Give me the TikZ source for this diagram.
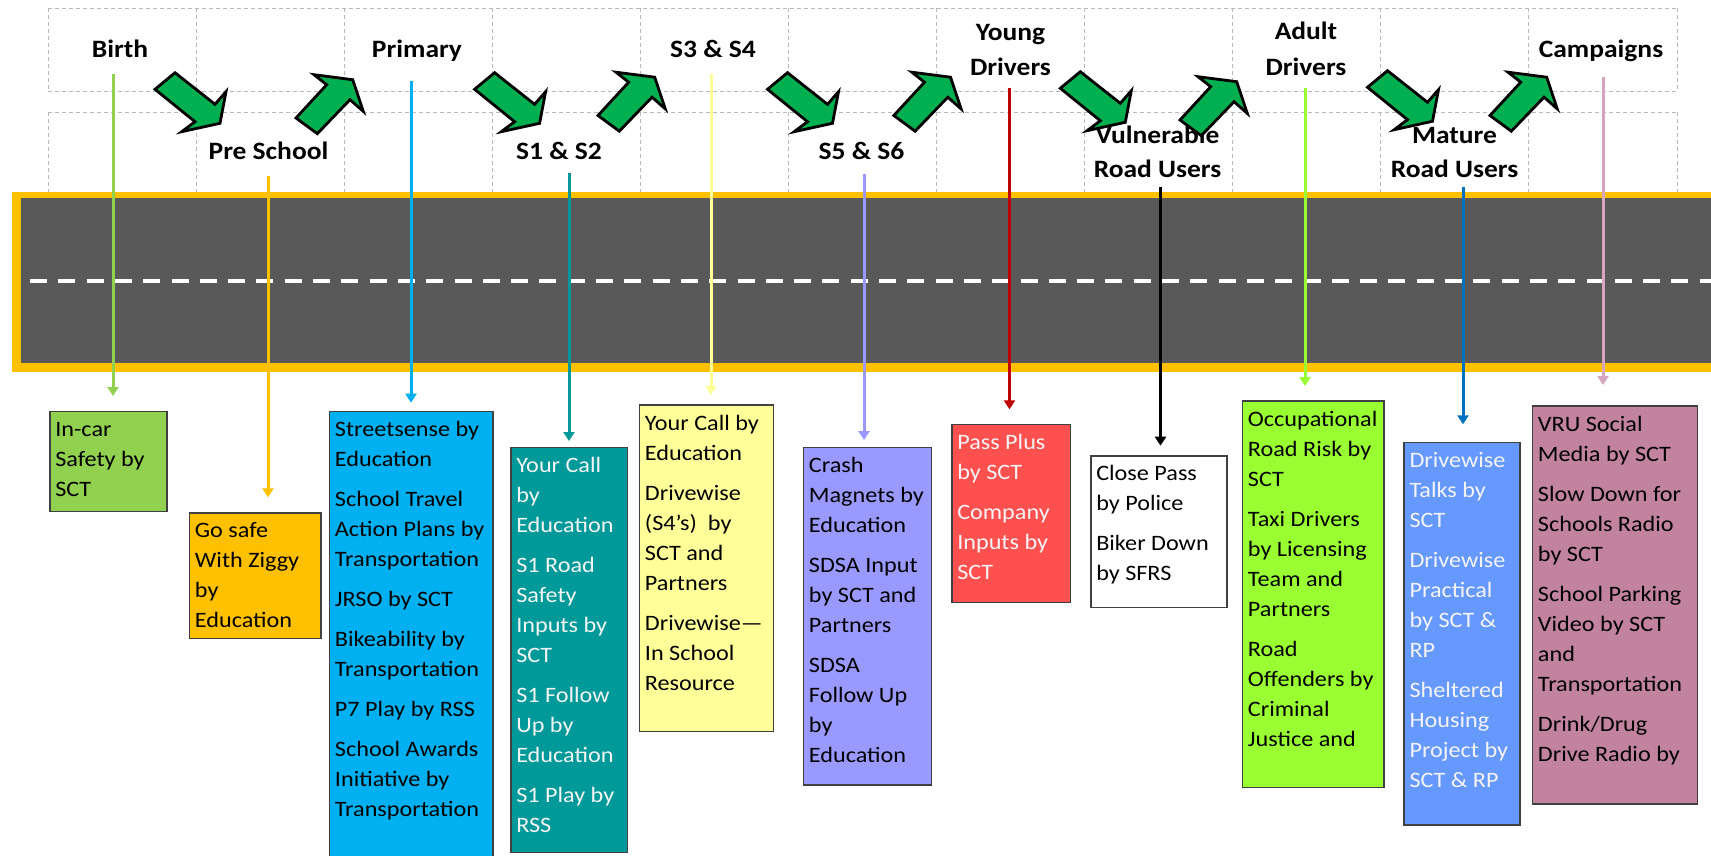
\documentclass[tikz,border=0pt]{standalone}
\usepackage{fontspec}
\setmainfont{Carlito}[FakeStretch=1.1]
\usetikzlibrary{arrows.meta}
\definecolor{roadgray}{HTML}{595959}
\definecolor{roadyellow}{HTML}{FFC000}
\definecolor{arrowgreen}{HTML}{00B050}
\definecolor{cA}{HTML}{92D050}
\definecolor{cB}{HTML}{FFC000}
\definecolor{cC}{HTML}{00B0F0}
\definecolor{cD}{HTML}{009999}
\definecolor{cE}{HTML}{FFFF99}
\definecolor{cF}{HTML}{9999FF}
\definecolor{cG}{HTML}{C00000}
\definecolor{cI}{HTML}{99FF33}
\definecolor{cJ}{HTML}{0070C0}
\definecolor{cK}{HTML}{D5A6BD}
\definecolor{fRed}{HTML}{FF5050}
\definecolor{fBlue}{HTML}{6699FF}
\definecolor{fPink}{HTML}{C2839F}
\definecolor{boxline}{HTML}{404040}
\definecolor{lighttext}{HTML}{F4F4F4}
\newcommand\bxt[3]{\parbox[c][#2pt][t]{#1pt}{\raggedright\leftskip=5.5pt\parindent=0pt\fontsize{22}{30}\selectfont\rule{0pt}{25pt}#3}}
\newcommand\stk[1]{\begin{tabular}[t]{@{}c@{}}#1\end{tabular}}
\newcommand\downarr[1]{\draw[garrow, shift={(#1)}] (0,0) -- (20,-16.6) -- (60,15) -- (71,2.4) -- (65,34) -- (26.7,42.4) -- (40,32.4) -- cycle;}
\newcommand\uparr[1]{\draw[garrow, shift={(#1)}] (0,0) -- (21.3,15.7) -- (54,-18.3) -- (67.3,-6.6) -- (56.7,-38.3) -- (18,-43.3) -- (30.7,-33.3) -- cycle;}
\tikzset{
  griddash/.style={draw=gray!55, line width=1pt, dash pattern=on 4pt off 3pt},
  stage/.style={anchor=base, inner sep=0pt, font=\fontsize{25}{34}\selectfont\bfseries},
  stagehi/.style={anchor=base, inner sep=0pt, font=\fontsize{25}{35.5}\selectfont\bfseries},
  infobox/.style={anchor=north west, inner sep=0pt, draw=boxline, line width=1.5pt},
  vline/.style={line width=3pt, -{Triangle[width=11pt,length=9pt]}},
  garrow/.style={fill=arrowgreen, draw=black, line width=2.8pt, line join=miter}
}
\begin{document}
\begin{tikzpicture}[x=1pt,y=-1pt]
\useasboundingbox (0,0) rectangle (1711,855);
\clip (0,0) rectangle (1711,855);
\fill[white] (0,0) rectangle (1711,855);
% grid
\draw[griddash] (48,8) -- (1677,8);
\draw[griddash] (48,91) -- (1677,91);
\draw[griddash] (48,112) -- (1677,112);
\foreach \i in {0,...,11} {
  \draw[griddash] ({48+148.09*\i},8) -- ({48+148.09*\i},91);
  \draw[griddash] ({48+148.09*\i},112) -- ({48+148.09*\i},194);
}
% road
\fill[roadyellow] (11.5,191.7) rectangle (1725,371.7);
\fill[roadgray] (21,198.3) rectangle (1725,362.7);
\draw[white, line width=3.3pt, dash pattern=on 17pt off 11.3pt] (30,281) -- (1720,281);
% stage labels
\node[stage] (birth) at (120,57.3) {Birth};
\node[stage] (pre) at (268.5,159) {Pre School};
\node[stage] (primary) at (417,57.3) {Primary};
\node[stage] (s12) at (559,159) {S1 \& S2};
\node[stage] (s34) at (713,57.3) {S3 \& S4};
\node[stage] (s56) at (861.5,159) {S5 \& S6};
\node[stagehi] (young) at (1010.5,40) {\stk{Young\\Drivers}};
\node[stage] (vru) at (1157.5,143) {\stk{Vulnerable\\Road Users}};
\node[stagehi] (adult) at (1306,39.5) {\stk{Adult\\Drivers}};
\node[stage] (mature) at (1454.5,143.5) {\stk{Mature\\Road Users}};
\node[stage] (camp) at (1601,57.3) {Campaigns};
% boxes
\node[infobox, fill=cA] (incar) at (49,410.7) {\bxt{117}{100}{In-car\\Safety by\\SCT}};
\node[infobox, fill=cB] (gosafe) at (188.7,512) {\bxt{131.6}{125.7}{Go safe\\With Ziggy\\by\\Education}};
\node[infobox, fill=cC] (street) at (328.7,410.7) {\bxt{163.3}{470}{Streetsense by\\Education\\[10pt]School Travel\\Action Plans by\\Transportation\\[10pt]JRSO by SCT\\[10pt]Bikeability by\\Transportation\\[10pt]P7 Play by RSS\\[10pt]School Awards\\Initiative by\\Transportation}};
\node[infobox, fill=cD, text=lighttext] (teal) at (510,446.7) {\bxt{116.7}{405}{Your Call\\by\\Education\\[10pt]S1 Road\\Safety\\Inputs by\\SCT\\[10pt]S1 Follow\\Up by\\Education\\[10pt]S1 Play by\\RSS}};
\node[infobox, fill=cE] (yellowbox) at (638.7,404.3) {\bxt{134}{326.4}{Your Call by\\Education\\[10pt]Drivewise\\(S4’s)\ \ by\\SCT and\\Partners\\[10pt]Drivewise—\\In School\\Resource}};
\node[infobox, fill=cF] (purplebox) at (802.7,446.7) {\bxt{128}{337.6}{Crash\\Magnets by\\Education\\[10pt]SDSA Input\\by SCT and\\Partners\\[10pt]SDSA\\Follow Up\\by\\Education}};
\node[infobox, fill=fRed, text=lighttext] (redbox) at (951,423.7) {\bxt{118.7}{178}{Pass Plus\\by SCT\\[10pt]Company\\Inputs by\\SCT}};
\node[infobox, fill=white] (whitebox) at (1090,455) {\bxt{136.3}{151.7}{Close Pass\\by Police\\[10pt]Biker Down\\by SFRS}};
\node[infobox, fill=cI] (greenbox) at (1241.7,400.3) {\bxt{141.6}{386.4}{Occupational\\Road Risk by\\SCT\\[10pt]Taxi Drivers\\by Licensing\\Team and\\Partners\\[10pt]Road\\Offenders by\\Criminal\\Justice and}};
\node[infobox, fill=fBlue, text=lighttext] (bluebox) at (1403.3,441.7) {\bxt{116}{382.3}{Drivewise\\Talks by\\SCT\\[10pt]Drivewise\\Practical\\by SCT \&\\RP\\[10pt]Sheltered\\Housing\\Project by\\SCT \& RP}};
\node[infobox, fill=fPink] (pinkbox) at (1531.7,405.3) {\bxt{165}{398}{VRU Social\\Media by SCT\\[10pt]Slow Down for\\Schools Radio\\by SCT\\[10pt]School Parking\\Video by SCT\\and\\Transportation\\[10pt]Drink/Drug\\Drive Radio by}};
% vertical connectors
\coordinate (t1) at (113,74);
\coordinate (t2) at (268,176);
\coordinate (t3) at (411,81);
\coordinate (t4) at (569,172.7);
\coordinate (t5) at (711,74);
\coordinate (t6) at (864,174);
\coordinate (t7) at (1009.5,87.7);
\coordinate (t8) at (1160.5,187);
\coordinate (t9) at (1305,87.7);
\coordinate (t10) at (1463,186.7);
\coordinate (t11) at (1603,77.3);
\draw[vline, draw=cA, fill=cA, shorten >=14.7pt] (t1) -- (t1 |- incar.north);
\draw[vline, draw=cB, fill=cB, shorten >=14.7pt] (t2) -- (t2 |- gosafe.north);
\draw[vline, draw=cC, fill=cC, shorten >=8pt] (t3) -- (t3 |- street.north);
\draw[vline, draw=cD, fill=cD, shorten >=5.7pt] (t4) -- (t4 |- teal.north);
\draw[vline, draw=cE, fill=cE, shorten >=9.3pt] (t5) -- (t5 |- yellowbox.north);
\draw[vline, draw=cF, fill=cF, shorten >=6.7pt] (t6) -- (t6 |- purplebox.north);
\draw[vline, draw=cG, fill=cG, shorten >=14.4pt] (t7) -- (t7 |- redbox.north);
\draw[vline, draw=black, fill=black, shorten >=9.3pt] (t8) -- (t8 |- whitebox.north);
\draw[vline, draw=cI, fill=cI, shorten >=14.3pt] (t9) -- (t9 |- greenbox.north);
\draw[vline, draw=cJ, fill=cJ, shorten >=17.4pt] (t10) -- (t10 |- bluebox.north);
\draw[vline, draw=cK, fill=cK, shorten >=20.3pt] (t11) -- (t11 |- pinkbox.north);
% green block arrows
\downarr{155,89.3}
\uparr{296,118}
\downarr{474.6,89.3}
\uparr{598,115.5}
\downarr{767.5,89.3}
\uparr{893.8,115.5}
\downarr{1060.3,88.3}
\uparr{1180,120}
\downarr{1367.5,87.3}
\uparr{1490,115.5}
\end{tikzpicture}
\end{document}
